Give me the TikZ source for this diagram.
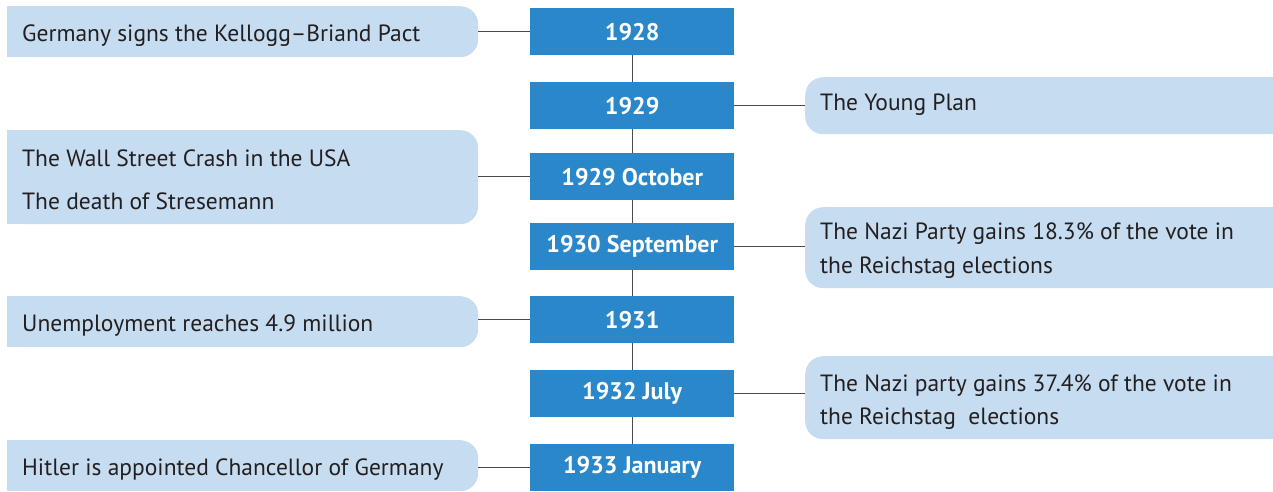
\documentclass[tikz,border=0pt]{standalone}
\usepackage{fontspec}
\setmainfont{PT Sans}
\definecolor{yearblue}{HTML}{2A87C9}
\definecolor{evblue}{HTML}{C6DCF0}
\definecolor{txt}{HTML}{231F20}
\definecolor{conn}{HTML}{4A4A4A}
\begin{document}
\begin{tikzpicture}[x=1pt,y=-1pt,
  year/.style={fill=yearblue, text=white, font=\fontsize{24}{28}\selectfont\bfseries,
    minimum width=204pt, minimum height=47pt, inner sep=0pt, anchor=north west},
  evbox/.style={fill=evblue, rounded corners=18pt, inner sep=0pt, anchor=north west},
  evtext/.style={text=txt, font=\fontsize{23.5}{28}\selectfont, anchor=base west, inner sep=0pt},
  link/.style={draw=conn, line width=1.2pt}]
\useasboundingbox (0,0) rectangle (1273,491);
% year boxes
\node[year] (y1) at (530,8) {1928};
\node[year] (y2) at (530,82) {1929};
\node[year] (y3) at (530,153) {1929 October};
\node[year] (y4) at (530,223) {1930 September};
\node[year] (y5) at (530,296) {1931};
\node[year] (y6) at (530,370) {1932 July};
\node[year] (y7) at (530,444) {1933 January};
% left event boxes
\node[evbox, minimum width=471pt, minimum height=51pt] (e1) at (7,6) {};
\fill[evblue] (e1.north west) rectangle ([xshift=40pt]e1.south west);
\node[evbox, minimum width=471pt, minimum height=94pt] (e3) at (7,130) {};
\fill[evblue] (e3.north west) rectangle ([xshift=40pt]e3.south west);
\node[evbox, minimum width=471pt, minimum height=51pt] (e5) at (7,296) {};
\fill[evblue] (e5.north west) rectangle ([xshift=40pt]e5.south west);
\node[evbox, minimum width=471pt, minimum height=51pt] (e7) at (7,440) {};
\fill[evblue] (e7.north west) rectangle ([xshift=40pt]e7.south west);
% right event boxes
\node[evbox, minimum width=480pt, minimum height=57pt] (e2) at (805,77) {};
\fill[evblue] ([xshift=-40pt]e2.north east) rectangle (e2.south east);
\node[evbox, minimum width=480pt, minimum height=81pt] (e4) at (805,207) {};
\fill[evblue] ([xshift=-40pt]e4.north east) rectangle (e4.south east);
\node[evbox, minimum width=480pt, minimum height=83pt] (e6) at (805,356) {};
\fill[evblue] ([xshift=-40pt]e6.north east) rectangle (e6.south east);
% texts
\node[evtext] (t1) at (22,41) {Germany signs the Kellogg–Briand Pact};
\node[evtext] (t2) at (820,110) {The Young Plan};
\node[evtext] (t3a) at (22,166) {The Wall Street Crash in the USA};
\node[evtext] (t3b) at (22,209) {The death of Stresemann};
\node[evtext] (t4a) at (820,239) {The Nazi Party gains 18.3\% of the vote in};
\node[evtext] (t4b) at (820,273) {the Reichstag elections};
\node[evtext] (t5) at (22,331) {Unemployment reaches 4.9 million};
\node[evtext] (t6a) at (820,391) {The Nazi party gains 37.4\% of the vote in};
\node[evtext] (t6b) at (820,424) {the Reichstag\ \ elections};
\node[evtext] (t7) at (22,475) {Hitler is appointed Chancellor of Germany};
% connectors
\draw[link] (y1.south) -- (y2.north);
\draw[link] (y2.south) -- (y3.north);
\draw[link] (y3.south) -- (y4.north);
\draw[link] (y4.south) -- (y5.north);
\draw[link] (y5.south) -- (y6.north);
\draw[link] (y6.south) -- (y7.north);
\draw[link] (e1.east |- y1.west) -- (y1.west);
\draw[link] (y2.east) -- (e2.west |- y2.east);
\draw[link] (e3.east |- y3.west) -- (y3.west);
\draw[link] (y4.east) -- (e4.west |- y4.east);
\draw[link] (e5.east |- y5.west) -- (y5.west);
\draw[link] (y6.east) -- (e6.west |- y6.east);
\draw[link] (e7.east |- y7.west) -- (y7.west);
\end{tikzpicture}
\end{document}
